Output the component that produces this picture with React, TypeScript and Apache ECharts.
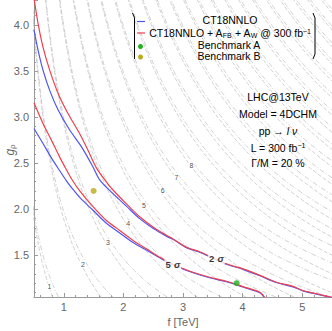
import React, { useEffect, useRef } from "react";
import * as echarts from "echarts";

// ---- data ----
const xRange = [0.5, 5.5];
const yRange = [1.05, 4.27];

// outer (2 sigma) curves
const outerRed: number[][] = [
  [0.505, 4.27], [0.567, 4.02], [0.651, 3.76], [0.763, 3.51], [0.903, 3.26], [1.07, 3.04],
  [1.267, 2.82], [1.406, 2.64], [1.547, 2.45], [1.7, 2.31], [1.826, 2.21], [2.05, 2.06],
  [2.273, 1.92], [2.497, 1.81], [2.72, 1.72], [2.832, 1.68], [3.057, 1.59], [3.28, 1.54],
  [3.503, 1.475], [3.728, 1.41], [4.007, 1.355], [4.29, 1.285], [4.567, 1.21], [4.846, 1.165],
  [5.01, 1.12], [5.24, 1.085], [5.5, 1.045],
];
const outerBlue: number[][] = [
  [0.5, 3.95], [0.567, 3.73], [0.651, 3.51], [0.763, 3.29], [0.903, 3.08], [1.099, 2.86],
  [1.295, 2.68], [1.49, 2.46], [1.602, 2.32], [1.826, 2.17], [2.05, 2.035], [2.273, 1.9],
  [2.497, 1.795], [2.72, 1.71], [2.832, 1.675], [3.057, 1.585], [3.28, 1.535], [3.503, 1.47],
  [3.728, 1.405], [4.007, 1.35], [4.29, 1.28], [4.567, 1.207], [4.846, 1.16], [5.01, 1.117],
  [5.24, 1.082], [5.5, 1.043],
];
// inner (5 sigma) curves
const innerRed: number[][] = [
  [0.5, 3.155], [0.651, 2.93], [0.8, 2.74], [0.92, 2.58], [1.044, 2.43], [1.15, 2.31],
  [1.267, 2.2], [1.49, 2.03], [1.715, 1.88], [1.938, 1.772], [2.161, 1.663], [2.386, 1.573],
  [2.609, 1.482], [2.748, 1.43], [2.945, 1.373], [3.168, 1.318], [3.447, 1.264], [3.728, 1.221],
  [4.007, 1.163], [4.29, 1.101], [4.37, 1.047],
];
const innerBlue: number[][] = [
  [0.5, 2.877], [0.651, 2.714], [0.8, 2.55], [0.92, 2.43], [1.044, 2.31], [1.15, 2.22],
  [1.267, 2.13], [1.49, 1.99], [1.715, 1.85], [1.938, 1.745], [2.161, 1.64], [2.386, 1.56],
  [2.609, 1.475], [2.748, 1.425], [2.945, 1.368], [3.168, 1.313], [3.447, 1.259], [3.728, 1.216],
  [4.007, 1.158], [4.29, 1.096], [4.36, 1.047],
];

const benchmarkA: number[][] = [[3.9, 1.2]];
const benchmarkB: number[][] = [[1.5, 2.2]];

// mass contour levels (TeV) and their two families
const massLevels = [1, 2, 3, 4, 5, 6, 7, 8, 9, 10, 11, 12, 13, 14, 15, 16, 17, 18, 19, 20, 21, 22, 23, 24];
const familyOffsets = [0.42, 0.1];
const contourLabels: (number | string)[][] = [
  [0.76, 1.16, "1"], [1.32, 1.4, "2"], [1.74, 1.64, "3"], [2.08, 1.845, "4"],
  [2.345, 2.04, "5"], [2.66, 2.2, "6"], [2.89, 2.345, "7"], [3.14, 2.48, "8"],
];
const sigmaLabels: (number | string)[][] = [
  [2.83, 1.4, "5"], [3.56, 1.468, "2"],
];

const BLUE = "#4d55f5";
const RED = "#f0404c";
const GREEN = "#22b022";
const YELLOW = "#bcab18";
const FONT = "Liberation Sans";

function contourLine(M: number, a: number): number[][] {
  const pts: number[][] = [];
  for (let i = 0; i <= 110; i++) {
    const g = yRange[0] + ((yRange[1] - yRange[0]) * i) / 110;
    pts.push([M / Math.sqrt(g * g + a), g]);
  }
  return pts;
}

export default function App() {
  const ref = useRef<HTMLDivElement>(null);
  useEffect(() => {
    if (!ref.current) return;
    const chart = echarts.init(ref.current, null, { renderer: "svg" });

    const contourSeries: any[] = [];
    familyOffsets.forEach((a, fi) => {
      massLevels.forEach((M) => {
        contourSeries.push({
          type: "line",
          data: contourLine(M, a),
          showSymbol: false,
          silent: true,
          lineStyle: {
            color: "#bdbdbd",
            width: 0.7,
            type: fi === 0 ? [4, 2] : [5, 2, 1, 2],
          },
          z: 1,
        });
      });
    });

    const curve = (data: number[][], color: string) => ({
      type: "line",
      data,
      showSymbol: false,
      smooth: 0.3,
      silent: true,
      lineStyle: { color, width: 1.2 },
      z: 3,
    });

    const legendText = {
      n: { fontSize: 10.5, fontFamily: FONT, color: "#000", lineHeight: 11 },
      sub: { fontSize: 7, fontFamily: FONT, color: "#000", verticalAlign: "bottom", lineHeight: 6 },
      sup: { fontSize: 7, fontFamily: FONT, color: "#000", verticalAlign: "top", lineHeight: 5 },
      i: { fontSize: 10.5, fontFamily: FONT, color: "#000", fontStyle: "italic", lineHeight: 11 },
    };

    const txt = (x: number, y: number, text: string) => ({
      type: "text",
      x,
      y,
      style: { text, rich: legendText, align: "center", verticalAlign: "middle", fill: "#000", fontSize: 10.5, fontFamily: FONT },
      z: 10,
    });

    chart.setOption({
      animation: false,
      backgroundColor: "#fff",
      grid: { left: 34, right: 0, top: 0, bottom: 34, containLabel: false, outerBoundsMode: "none" },
      xAxis: {
        type: "value",
        min: xRange[0],
        max: xRange[1],
        splitNumber: 5,
        name: "f [TeV]",
        nameLocation: "middle",
        nameGap: 19,
        nameMoveOverlap: false,
        nameTextStyle: { color: "#666", fontSize: 11, fontFamily: FONT },
        axisLine: { lineStyle: { color: "#999", width: 1 } },
        axisTick: { inside: true, length: 4, lineStyle: { color: "#999" } },
        minorTick: { show: true, splitNumber: 5, length: 2, lineStyle: { color: "#999" } },
        axisLabel: { color: "#666", fontSize: 11, fontFamily: FONT, margin: 4, showMinLabel: false, showMaxLabel: false },
        splitLine: { show: false },
      },
      yAxis: {
        type: "value",
        min: yRange[0],
        max: yRange[1],
        splitNumber: 6,
        axisLine: { lineStyle: { color: "#999", width: 1 } },
        axisTick: { inside: true, length: 4, lineStyle: { color: "#999" } },
        minorTick: { show: true, splitNumber: 5, length: 2, lineStyle: { color: "#999" } },
        axisLabel: {
          color: "#666",
          fontSize: 11,
          fontFamily: FONT,
          margin: 5,
          showMinLabel: false,
          showMaxLabel: false,
          formatter: (v: number) => v.toFixed(1),
        },
        splitLine: { show: false },
      },
      series: [
        ...contourSeries,
        {
          type: "scatter",
          data: contourLabels,
          symbolSize: 0,
          silent: true,
          z: 2,
          label: {
            show: true,
            position: "inside",
            formatter: (p: any) => p.data[2],
            fontSize: 7,
            color: "#222",
            fontFamily: FONT,
            backgroundColor: "#fff",
            padding: [0, 1],
          },
        },
        curve(innerBlue, BLUE),
        curve(innerRed, RED),
        curve(outerBlue, BLUE),
        curve(outerRed, RED),
        {
          type: "scatter",
          data: sigmaLabels,
          symbolSize: 0,
          silent: true,
          z: 5,
          label: {
            show: true,
            position: "inside",
            formatter: (p: any) => `{n|${p.data[2]}} {s|σ}`,
            backgroundColor: "#fff",
            padding: [0, 1],
            rich: {
              n: { fontSize: 9.5, fontWeight: "bold", color: "#000", fontFamily: FONT },
              s: { fontSize: 9.5, fontWeight: "bold", fontStyle: "italic", color: "#000", fontFamily: FONT },
            },
          },
        },
        {
          type: "scatter",
          data: benchmarkA,
          symbolSize: 6,
          itemStyle: { color: GREEN },
          z: 6,
        },
        {
          type: "scatter",
          data: benchmarkB,
          symbolSize: 6,
          itemStyle: { color: YELLOW },
          z: 6,
        },
      ],
      graphic: [
        {
          type: "text",
          x: 10,
          y: 150,
          rotation: Math.PI / 2,
          style: {
            text: "{i|g}{s|ρ}",
            align: "center",
            verticalAlign: "middle",
            fill: "#666",
            rich: {
              i: { fontSize: 12, fontStyle: "italic", fill: "#666", fontFamily: FONT, lineHeight: 12 },
              s: { fontSize: 8, fill: "#666", verticalAlign: "bottom", fontFamily: FONT, lineHeight: 7 },
            },
          },
          z: 10,
        },
        { type: "polyline", shape: { points: [[132.5, 13], [134.5, 17.5], [134.5, 59]] }, style: { stroke: "#000", lineWidth: 1, fill: "none" }, z: 10 },
        { type: "polyline", shape: { points: [[313, 13], [315, 18], [315, 54], [313, 59]] }, style: { stroke: "#000", lineWidth: 1, fill: "none" }, z: 10 },
        { type: "line", shape: { x1: 137, y1: 21.5, x2: 145, y2: 21.5 }, style: { stroke: BLUE, lineWidth: 1.2 }, z: 10 },
        { type: "line", shape: { x1: 137, y1: 33, x2: 145, y2: 33 }, style: { stroke: RED, lineWidth: 1.2 }, z: 10 },
        { type: "circle", shape: { cx: 140.5, cy: 46.5, r: 2.5 }, style: { fill: GREEN }, z: 10 },
        { type: "circle", shape: { cx: 140.5, cy: 57, r: 2.5 }, style: { fill: YELLOW }, z: 10 },
        txt(230, 20, "{n|CT18NNLO}"),
        txt(230, 33, "{n|CT18NNLO + A}{sub|FB}{n| + A}{sub|W}{n| @ 300 fb}{sup|−1}"),
        txt(229, 44.5, "{n|Benchmark A}"),
        txt(229, 55.5, "{n|Benchmark B}"),
        txt(278, 97, "{n|LHC@13TeV}"),
        txt(278, 114, "{n|Model = 4DCHM}"),
        txt(278, 131, "{n|pp → }{i|l ν}"),
        txt(278, 147.5, "{n|L = 300 fb}{sup|−1}"),
        txt(278, 163, "{n|Γ/M = 20 %}"),
      ],
    });
    return () => chart.dispose();
  }, []);

  return (
    <div
      ref={ref}
      style={{ position: "fixed", left: 0, top: 0, width: 332, height: 331, background: "#fff" }}
    />
  );
}
